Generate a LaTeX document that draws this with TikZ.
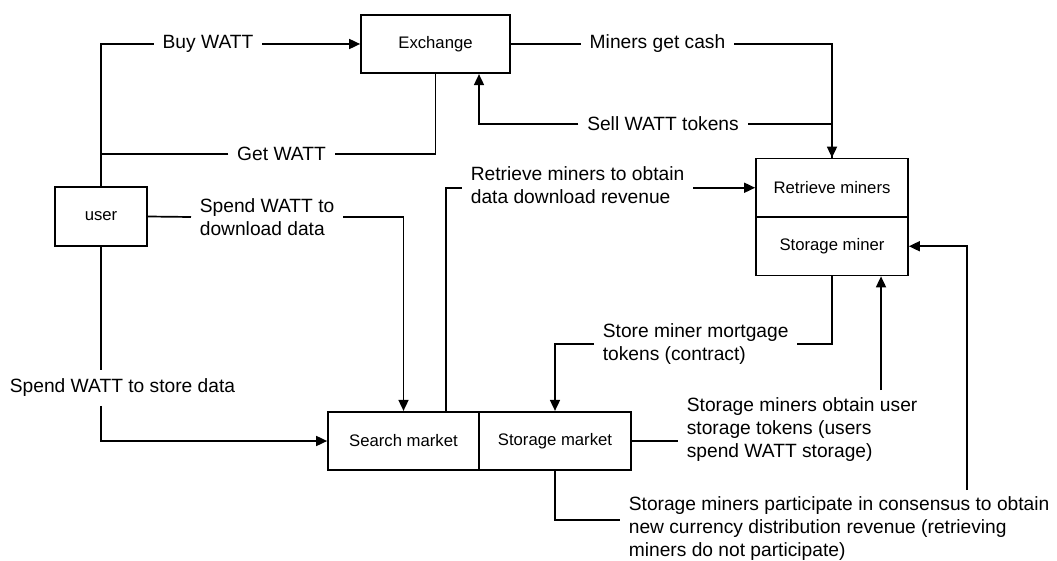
\documentclass[tikz,border=0pt]{standalone}
\usepackage{fontspec}
\setmainfont{Liberation Sans}
\usetikzlibrary{arrows.meta}
\begin{document}
\begin{tikzpicture}[x=1pt,y=-1pt,
  line width=1.7pt,
  box/.style={draw, line width=1.7pt, inner sep=0pt, minimum height=58.5pt,
    font=\fontsize{16.7pt}{20pt}\selectfont},
  lbl/.style={inner xsep=8pt, inner ysep=3pt, align=left,
    font=\fontsize{19.2pt}{23pt}\selectfont},
  arr/.style={-{Triangle[length=11pt,width=10pt]}}]
\useasboundingbox (0,0) rectangle (1057,561);

% boxes
\node[box, minimum width=149pt] (ex) at (435.5,44) {Exchange};
\node[box, minimum width=92pt] (user) at (101,216.5) {user};
\node[box, minimum width=152pt] (rm) at (832,187.75) {Retrieve miners};
\node[box, minimum width=152pt] (stm) at (832,246.25) {Storage miner};
\node[box, minimum width=151pt] (search) at (403.5,441) {Search market};
\node[box, minimum width=152pt] (storage) at (555,441) {Storage market};

% labels
\node[lbl] (buy) at (208,44) {Buy WATT};
\node[lbl] (get) at (281.5,154) {Get WATT};
\node[lbl] (cash) at (657.5,44) {Miners get cash};
\node[lbl] (sell) at (663,124) {Sell WATT tokens};
\node[lbl, anchor=west] (retr) at (462,185) {Retrieve miners to obtain\\data download revenue};
\node[lbl, anchor=west] (dl) at (191,217) {Spend WATT to\\download data};
\node[lbl, inner ysep=8pt] (store) at (122.5,388) {Spend WATT to store data};
\node[lbl, anchor=west] (mort) at (594,344) {Store miner mortgage\\tokens (contract)};
\node[lbl, anchor=west] (obt) at (678,430) {Storage miners obtain user\\storage tokens (users\\spend WATT storage)};
\node[lbl, anchor=west] (part) at (620,529) {Storage miners participate in consensus to obtain\\new currency distribution revenue (retrieving\\miners do not participate)};

% helper coordinates
\coordinate (ou) at (881,390);
\coordinate (pA) at (620,520);
\coordinate (pB) at (966.7,490);

% connectors
\draw (user.north) |- (buy.west);
\draw[arr] (buy.east) -- (ex.west);
\draw (ex.south) |- (get.east);
\draw (get.west) -- (get.west -| user.north);
\draw (ex.east) -- (cash.west);
\draw[arr] (cash.east) -| (rm.north);
\draw (rm.north) |- (sell.east);
\draw[arr] (sell.west) -| ([xshift=43.5pt]ex.south);
\draw ([xshift=42.5pt]search.north) |- (retr.west |- rm.west);
\draw[arr] (retr.east |- rm.west) -- (rm.west);
\draw (user.east) -- (dl.west);
\draw[arr] (dl.east) -| (search.north);
\draw (user.south) -- (user.south |- store.north);
\draw[arr] (user.south |- store.south) |- (search.west);
\draw (stm.south) |- (mort.east);
\draw[arr] (mort.west) -| (storage.north);
\draw (storage.east) -- (storage.east -| obt.west);
\draw[arr] (ou) -- (ou |- stm.south);
\draw (storage.south) |- (pA);
\draw[arr] (pB) |- (stm.east);
\end{tikzpicture}
\end{document}
